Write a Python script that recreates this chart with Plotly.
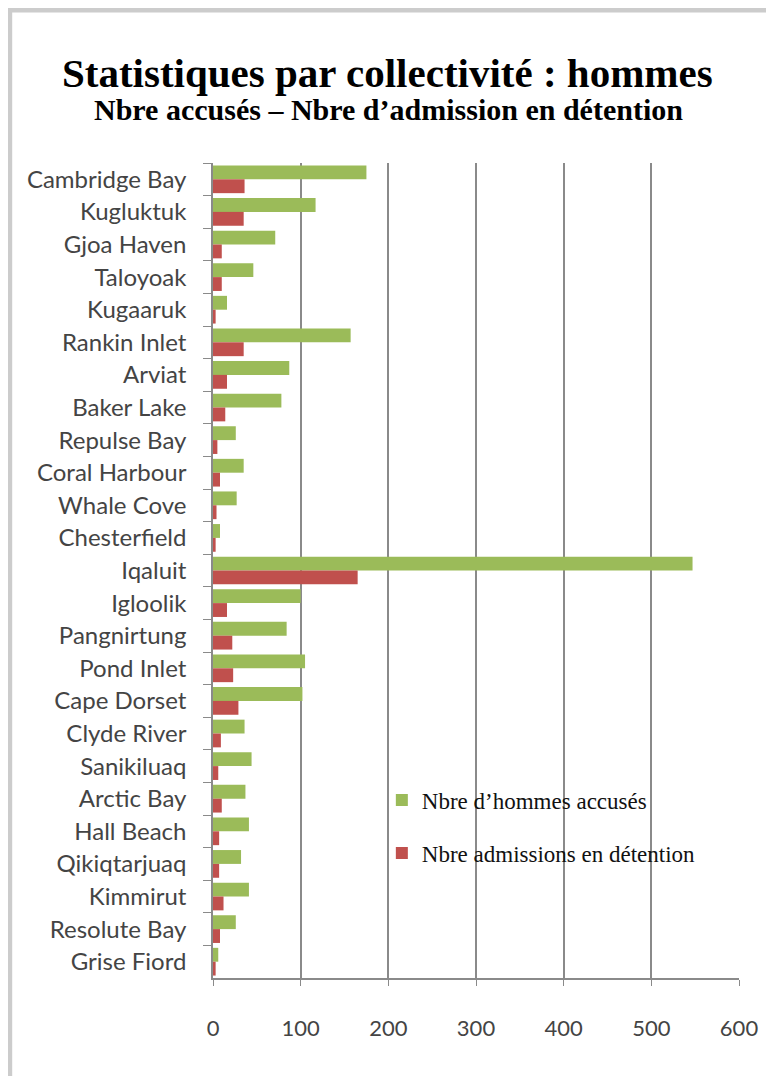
import plotly.graph_objects as go

communities = ["Cambridge Bay", "Kugluktuk", "Gjoa Haven", "Taloyoak", "Kugaaruk",
               "Rankin Inlet", "Arviat", "Baker Lake", "Repulse Bay", "Coral Harbour",
               "Whale Cove", "Chesterfield", "Iqaluit", "Igloolik", "Pangnirtung",
               "Pond Inlet", "Cape Dorset", "Clyde River", "Sanikiluaq", "Arctic Bay",
               "Hall Beach", "Qikiqtarjuaq", "Kimmirut", "Resolute Bay", "Grise Fiord"]
accused = [175, 117, 71, 46, 16, 157, 87, 78, 26, 35, 27, 8, 547, 100, 84,
           105, 102, 36, 44, 37, 41, 32, 41, 26, 6]
detention = [36, 35, 10, 10, 3, 35, 16, 14, 5, 8, 4, 3, 165, 16, 22,
             23, 29, 9, 6, 10, 7, 7, 12, 8, 3]
x_ticks = [0, 100, 200, 300, 400, 500, 600]

name_accused = "Nbre d’hommes accusés"
name_detention = "Nbre admissions en détention"

fig = go.Figure()
fig.add_trace(go.Bar(y=communities, x=accused, orientation="h", name=name_accused,
                     marker=dict(color="#9BBB59", line=dict(width=0)), legendgroup="a"))
fig.add_trace(go.Bar(y=communities, x=detention, orientation="h", name=name_detention,
                     marker=dict(color="#C0504D", line=dict(width=0)), legendgroup="b"))

fig.update_layout(
    width=766, height=1068,
    paper_bgcolor="white", plot_bgcolor="white",
    margin=dict(l=205, r=35, t=155, b=98, pad=0),
    barmode="group", bargap=0.15, bargroupgap=0.0,
    showlegend=True,
    legend=dict(x=0.321, y=0.2447, xanchor="left", yanchor="top",
                bgcolor="rgba(0,0,0,0)", borderwidth=0,
                font=dict(family="Liberation Serif", size=23, color="#111"),
                tracegroupgap=20, itemwidth=30, traceorder="grouped"),
    xaxis=dict(range=[0, 600], tickvals=x_ticks, showgrid=True,
               gridcolor="#8a8a8a", gridwidth=1.5, zeroline=False,
               showline=True, linecolor="#8a8a8a", linewidth=1.5,
               ticks="outside", ticklen=6, tickcolor="#8a8a8a",
               tickfont=dict(family="Lato", size=22, color="#444"), ticklabelstandoff=24),
    yaxis=dict(autorange="reversed", showgrid=False, showline=True,
               linecolor="#8a8a8a", linewidth=1.5, ticks="outside", ticklen=8,
               tickcolor="#8a8a8a", tickson="boundaries", ticklabelstandoff=20,
               tickfont=dict(family="Lato", size=24, color="#444")),
    annotations=[
        dict(text="<b>Statistiques par collectivité : hommes</b>", xref="paper", yref="paper",
             x=0.3314, y=1.0, xanchor="center", yanchor="middle", yshift=90, showarrow=False,
             font=dict(family="Liberation Serif", size=41, color="#000")),
        dict(text="<b>Nbre accusés – Nbre d’admission en détention</b>", xref="paper", yref="paper",
             x=0.334, y=1.0, xanchor="center", yanchor="middle", yshift=54, showarrow=False,
             font=dict(family="Liberation Serif", size=30, color="#000")),
    ],
    shapes=[
        dict(type="rect", xref="x", yref="paper", x0=213, x1=578, y0=0.1227, y1=0.2515,
             fillcolor="white", line=dict(width=0), layer="between"),
        dict(type="rect", xref="paper", yref="paper", x0=-0.3865, x1=1.2,
             y0=-0.3, y1=1.1877, line=dict(color="#cccccc", width=5)),
    ],
)

fig.write_html("out.html")
